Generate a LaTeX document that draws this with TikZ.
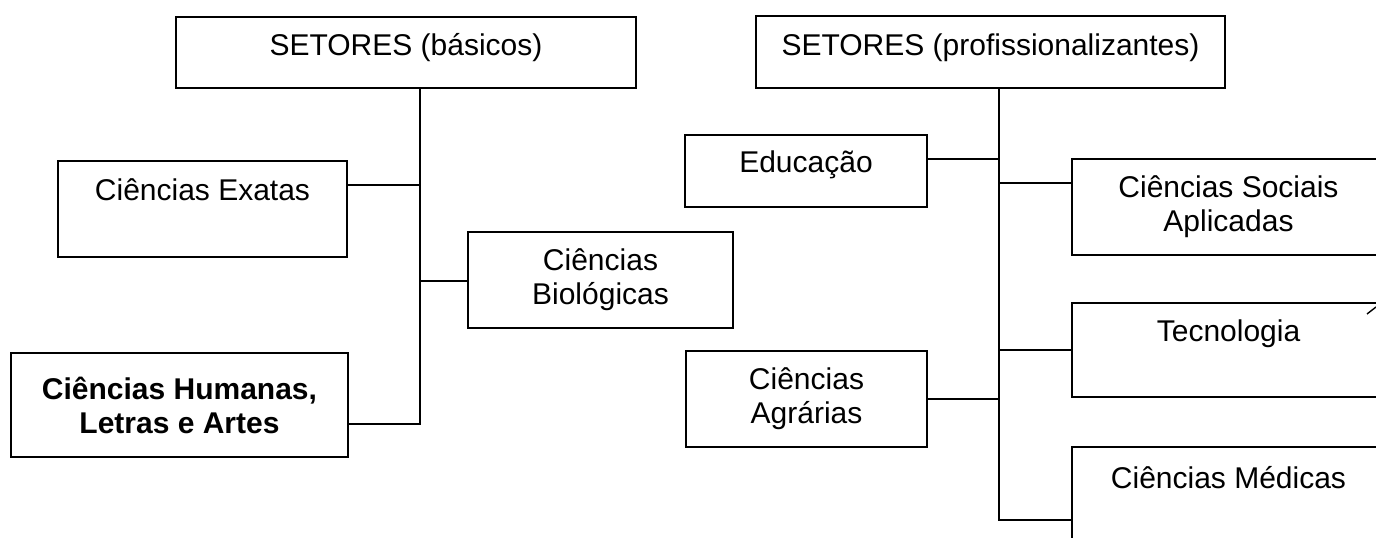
\documentclass[tikz,border=0pt]{standalone}
\usepackage{fontspec}
\setmainfont{Liberation Sans}
\tikzset{
	caixa/.style={draw, line width=0.9pt, inner sep=0pt, align=center,
			font=\fontsize{15pt}{17pt}\selectfont},
	negrito/.style={font=\fontsize{15pt}{17pt}\selectfont\bfseries},
	alto/.style={text height=10.7pt, text depth=#1},
	ramo/.style={line width=0.9pt}
}

\begin{document}
\begin{tikzpicture}[x=0.5pt,y=-0.5pt]
		\path[use as bounding box] (0,0) rectangle (1376,537);
		\clip (0,0) rectangle (1376,537);
		% setores basicos
		\node[caixa,minimum width=230pt,minimum height=35.5pt,alto=7.5pt] (basicos) at (406,52.5) {SETORES (básicos)};
		\node[caixa,minimum width=144.5pt,minimum height=48pt,alto=19pt] (exatas) at (202.5,209) {Ciências Exatas};
		\node[caixa,minimum width=132.5pt,minimum height=48pt] (biologicas) at (600.5,280) {Ciências\\Biológicas};
		\node[caixa,negrito,minimum width=168.5pt,minimum height=52pt] (humanas) at (179.5,405) {Ciências Humanas,\\Letras e Artes};
		% setores profissionalizantes
		\node[caixa,minimum width=234.5pt,minimum height=36pt,alto=7.5pt] (prof) at (990.5,52) {SETORES (profissionalizantes)};
		\node[caixa,minimum width=121pt,minimum height=36pt,alto=9pt] (educacao) at (806,171) {Educação};
		\node[caixa,minimum width=120.5pt,minimum height=48pt] (agrarias) at (806.5,399) {Ciências\\Agrárias};
		\node[caixa,minimum width=156.5pt,minimum height=48pt] (sociais) at (1228.5,207) {Ciências Sociais\\Aplicadas};
		\node[caixa,minimum width=156.5pt,minimum height=47pt,alto=19pt] (tecnologia) at (1228.5,350) {Tecnologia};
		\node[caixa,minimum width=156.5pt,minimum height=48pt,alto=17pt] (medicas) at (1228.5,495) {Ciências Médicas};

		% tronco esquerdo
		\coordinate (ta) at (420,88);
		\coordinate (tb) at (420,424);
		\draw[ramo] (ta) -- (tb) -- (tb -| humanas.east);
		\coordinate (ex) at ([yshift=12pt]exatas.east);
		\draw[ramo] (ex) -- (ex -| ta);
		\coordinate (bi) at ([yshift=-0.5pt]biologicas.west);
		\draw[ramo] (bi) -- (bi -| ta);

		% tronco direito
		\coordinate (tc) at (999,88);
		\coordinate (td) at (999,520);
		\draw[ramo] (tc) -- (td) -- (td -| medicas.west);
		\coordinate (ed) at ([yshift=6pt]educacao.east);
		\draw[ramo] (ed) -- (ed -| tc);
		\coordinate (so) at ([yshift=12pt]sociais.west);
		\draw[ramo] (so) -- (so -| tc);
		\draw[ramo] (tecnologia.west) -- (tecnologia.west -| tc);
		\draw[ramo] (agrarias.east) -- (agrarias.east -| tc);

		\draw[line width=0.7pt] (1367,314) -- (1376,307);
	\end{tikzpicture}
\end{document}
